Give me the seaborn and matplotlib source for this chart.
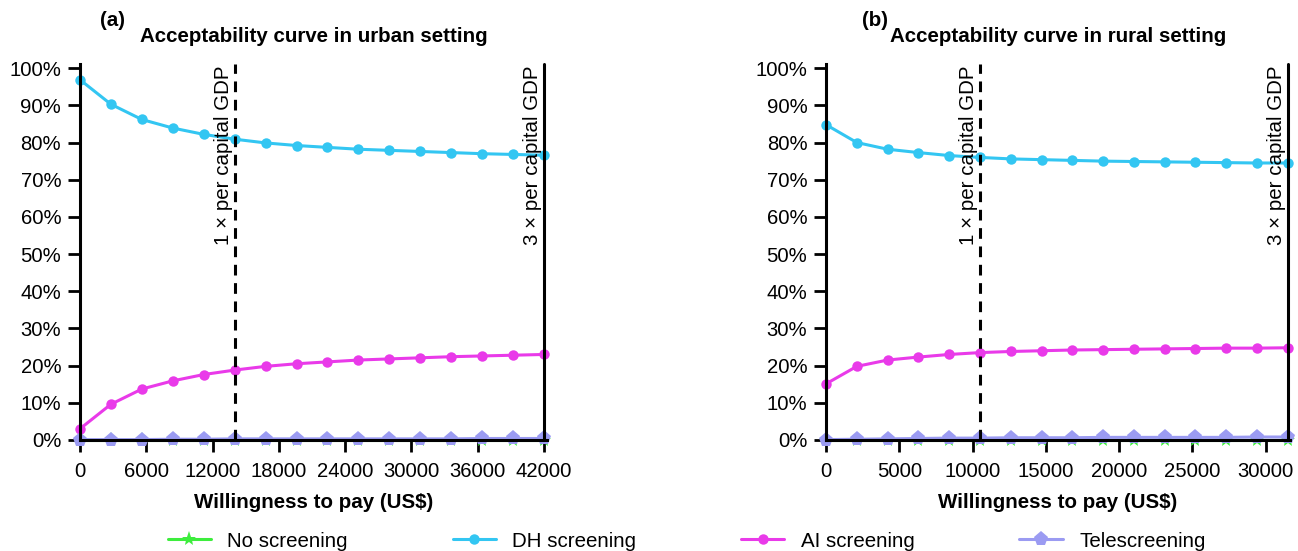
import matplotlib
matplotlib.use('Agg')
import matplotlib.pyplot as plt
from matplotlib.ticker import FuncFormatter
import numpy as np
import pandas as pd
import seaborn as sns

sns.set_theme(style="ticks")
plt.rcParams['font.family'] = ['Liberation Sans', 'DejaVu Sans']
plt.rcParams['text.color'] = 'black'
plt.rcParams['axes.labelcolor'] = 'black'
plt.rcParams['xtick.color'] = 'black'
plt.rcParams['ytick.color'] = 'black'

strategies = ['No screening', 'DH screening', 'AI screening', 'Telescreening']
colors = {'No screening': '#3ded3d', 'DH screening': '#33c6f2',
          'AI screening': '#e93ae9', 'Telescreening': '#9b9bf2'}
markers = {'No screening': '*', 'DH screening': 'o',
           'AI screening': 'o', 'Telescreening': 'p'}

# urban setting, WTP steps of 2800 US$ (GDP per capita 14000)
urban_wtp = [0, 2800, 5600, 8400, 11200, 14000, 16800, 19600, 22400, 25200,
             28000, 30800, 33600, 36400, 39200, 42000]
urban_none = [0] * 16
urban_dh = [96.9, 90.3, 86.2, 83.9, 82.2, 80.9, 79.9, 79.2, 78.7, 78.2,
            77.9, 77.6, 77.3, 77.0, 76.8, 76.6]
urban_ai = [3.0, 9.6, 13.7, 15.9, 17.6, 18.8, 19.8, 20.5, 21.0, 21.5,
            21.8, 22.1, 22.4, 22.6, 22.8, 23.0]
urban_tele = [0.1, 0.1, 0.1, 0.2, 0.2, 0.3, 0.3, 0.3, 0.3, 0.3,
              0.3, 0.3, 0.3, 0.4, 0.4, 0.4]
urban_gdp = 14000

# rural setting, WTP steps of 2100 US$ (GDP per capita 10500)
rural_wtp = [0, 2100, 4200, 6300, 8400, 10500, 12600, 14700, 16800, 18900,
             21000, 23100, 25200, 27300, 29400, 31500]
rural_none = [0] * 16
rural_dh = [84.8, 80.0, 78.2, 77.3, 76.5, 76.0, 75.6, 75.4, 75.2, 75.0,
            74.9, 74.8, 74.7, 74.6, 74.5, 74.5]
rural_ai = [15.1, 19.8, 21.5, 22.3, 23.0, 23.5, 23.8, 24.0, 24.2, 24.3,
            24.4, 24.5, 24.6, 24.7, 24.7, 24.8]
rural_tele = [0.1, 0.2, 0.3, 0.4, 0.5, 0.5, 0.6, 0.6, 0.6, 0.7,
              0.7, 0.7, 0.7, 0.7, 0.8, 0.8]
rural_gdp = 10500

FS = 14.8


def long_df(wtp, none, dh, ai, tele):
    rows = []
    for name, vals in zip(strategies, [none, dh, ai, tele]):
        for w, v in zip(wtp, vals):
            rows.append({'wtp': w, 'prob': v, 'strategy': name})
    return pd.DataFrame(rows)


def draw(ax, df, gdp, xmax, xticks, title):
    for name in strategies:
        sub = df[df.strategy == name]
        ms = 11 if markers[name] in ('*', 'p') else 7.5
        sns.lineplot(data=sub, x='wtp', y='prob', ax=ax, color=colors[name],
                     marker=markers[name], markersize=ms, markeredgewidth=0,
                     linewidth=2.2, label=name, legend=False, clip_on=False,
                     zorder=2)
    ax.plot([gdp, gdp], [0, 101], color='black', ls=(0, (3.5, 2.5)), lw=2.2,
            zorder=3, clip_on=False)
    ax.plot([3 * gdp, 3 * gdp], [0, 101], color='black', lw=2.2, zorder=3,
            clip_on=False)
    ax.text(gdp - xmax * 0.004, 100.8, '1 × per capital GDP', rotation=90,
            ha='right', va='top', fontsize=FS)
    ax.text(3 * gdp - xmax * 0.004, 100.8, '3 × per capital GDP', rotation=90,
            ha='right', va='top', fontsize=FS)
    ax.set_xlim(0, xmax)
    ax.set_ylim(0, 101)
    ax.set_xticks(xticks)
    ax.set_yticks(range(0, 101, 10))
    ax.yaxis.set_major_formatter(FuncFormatter(lambda v, p: '%d%%' % v))
    ax.set_xlabel('Willingness to pay (US$)', fontsize=FS, fontweight='bold',
                  labelpad=9)
    ax.set_ylabel('')
    ax.set_title(title, fontsize=FS, fontweight='bold', pad=16)
    ax.tick_params(labelsize=14.6, width=2, length=8.5, color='black', pad=5)
    ax.tick_params(axis='x', pad=7)
    for s in ['top', 'right']:
        ax.spines[s].set_visible(False)
    for s in ['left', 'bottom']:
        ax.spines[s].set_linewidth(2.2)
        ax.spines[s].set_color('black')
        ax.spines[s].set_zorder(4)


fig = plt.figure(figsize=(12.98, 5.51), dpi=100)
ax1 = fig.add_axes([0.0616, 0.2015, 0.3597, 0.6815])
ax2 = fig.add_axes([0.6364, 0.2015, 0.3574, 0.6815])

draw(ax1, long_df(urban_wtp, urban_none, urban_dh, urban_ai, urban_tele),
     urban_gdp, 42250, range(0, 42001, 6000),
     'Acceptability curve in urban setting')
draw(ax2, long_df(rural_wtp, rural_none, rural_dh, rural_ai, rural_tele),
     rural_gdp, 31650, range(0, 30001, 5000),
     'Acceptability curve in rural setting')

fig.text(0.077, 0.962, '(a)', fontsize=FS, fontweight='bold', va='center')
fig.text(0.664, 0.962, '(b)', fontsize=FS, fontweight='bold', va='center')

handles, labels = ax1.get_legend_handles_labels()
fig.legend(handles, labels, loc='center', ncol=4, frameon=False,
           fontsize=FS, bbox_to_anchor=(0.529, 0.018), columnspacing=5.1,
           handlelength=2.1, handletextpad=0.8)

fig.savefig('out.png', dpi=100)
